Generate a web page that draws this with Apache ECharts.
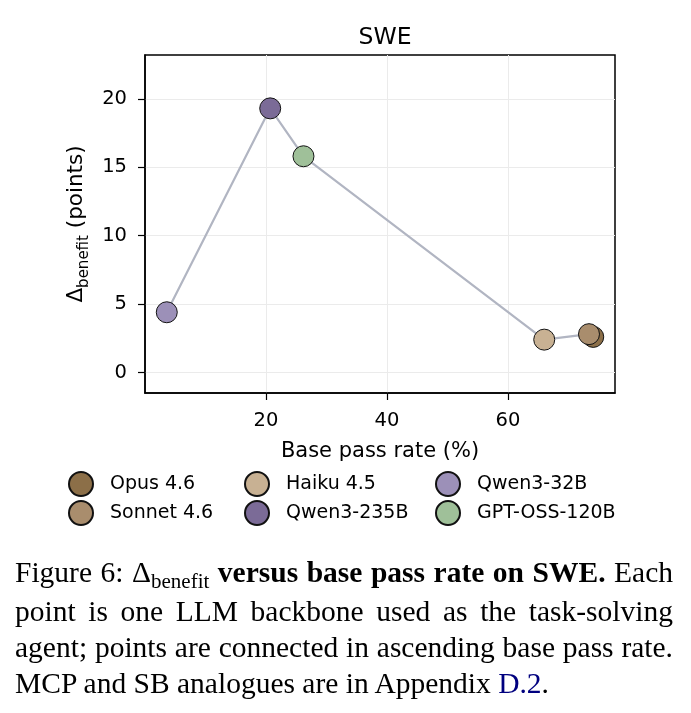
<!DOCTYPE html>
<html>
<head>
<meta charset="utf-8">
<script src="https://cdn.jsdelivr.net/npm/echarts@6/dist/echarts.min.js"></script>
<style>
  html, body { margin: 0; padding: 0; background: #fff; }
  #main { position: absolute; left: 0; top: 0; width: 691px; height: 713px; }
  #caption {
    position: absolute; left: 15px; top: 554px; width: 658px;
    font-family: 'Liberation Serif', 'Times New Roman', serif;
    font-size: 29.5px; line-height: 36px; color: #000;
  }
  #caption .j { text-align: justify; text-align-last: justify; white-space: nowrap; }
  #caption .sub { font-size: 21px; position: relative; top: 6px; }
  #caption a { color: #00007f; text-decoration: none; }
</style>
</head>
<body>
<div id="main"></div>
<div id="caption">
  <div class="j">Figure 6: &Delta;<span class="sub">benefit</span> <b>versus base pass rate on SWE.</b> Each</div>
  <div class="j">point is one LLM backbone used as the task-solving</div>
  <div class="j">agent; points are connected in ascending base pass rate.</div>
  <div>MCP and SB analogues are in Appendix <a>D.2</a>.</div>
</div>
<script>
var chartDom = document.getElementById('main');
var myChart = echarts.init(chartDom);
var option;

// values
var models = ['Opus 4.6', 'Sonnet 4.6', 'Haiku 4.5', 'Qwen3-235B', 'Qwen3-32B', 'GPT-OSS-120B'];
var basePassRate = [74.1, 73.4, 66.0, 20.7, 3.6, 26.2];
var deltaBenefit = [2.6, 2.8, 2.4, 19.3, 4.4, 15.8];
var xTicks = [20, 40, 60];
var yTicks = [0, 5, 10, 15, 20];

var colors = ['#8c6f48', '#a98d6d', '#c8b193', '#7b6b97', '#9c90b8', '#9fc099'];
var font = 'DejaVu Sans';

// connect points in ascending base pass rate
var order = models.map(function (m, i) { return i; });
order.sort(function (a, b) { return basePassRate[a] - basePassRate[b]; });
var linePts = order.map(function (i) { return [basePassRate[i], deltaBenefit[i]]; });

var series = [{
  type: 'line',
  data: linePts,
  symbol: 'none',
  lineStyle: { color: '#b1b5c2', width: 2.2 },
  z: 1,
  silent: true
}];
models.forEach(function (m, i) {
  series.push({
    name: m,
    type: 'scatter',
    data: [[basePassRate[i], deltaBenefit[i]]],
    symbolSize: 21,
    itemStyle: { color: colors[i], borderColor: '#111', borderWidth: 1, opacity: 1 },
    z: 2 + i
  });
});

function legendCol(left, names) {
  return {
    orient: 'vertical',
    left: left,
    top: 471,
    padding: 0,
    itemWidth: 48,
    itemHeight: 24,
    itemGap: 3,
    icon: 'circle',
    data: names,
    textStyle: { fontFamily: font, fontSize: 19, color: '#000' }
  };
}

option = {
  animation: false,
  title: {
    text: 'SWE',
    left: 380,
    top: 21,
    textAlign: 'center',
    textStyle: { fontFamily: font, fontSize: 23.5, fontWeight: 'normal', color: '#000' }
  },
  legend: [
    legendCol(68, ['Opus 4.6', 'Sonnet 4.6']),
    legendCol(244, ['Haiku 4.5', 'Qwen3-235B']),
    legendCol(435, ['Qwen3-32B', 'GPT-OSS-120B'])
  ],
  grid: {
    left: 145, right: 76, top: 55, bottom: 320,
    show: true, borderColor: '#000', borderWidth: 1.5, containLabel: false
  },
  xAxis: {
    type: 'value',
    min: 0,
    max: 77.7,
    name: 'Base pass rate (%)',
    nameLocation: 'middle',
    nameGap: 48,
    nameTextStyle: { fontFamily: font, fontSize: 21, color: '#000' },
    axisLine: { show: true, onZero: false, lineStyle: { color: '#000', width: 1.5 } },
    axisTick: { show: true, length: 7, lineStyle: { color: '#000', width: 1.2 }, customValues: xTicks },
    axisLabel: { fontFamily: font, fontSize: 19.5, color: '#000', margin: 18, customValues: xTicks },
    splitLine: { show: true, lineStyle: { color: '#ebebeb', width: 1 } }
  },
  yAxis: {
    type: 'value',
    min: -1.5,
    max: 23.2,
    name: '{d|Δ}{sub|benefit}{d| (points)}',
    nameLocation: 'middle',
    nameGap: 49,
    nameRotate: 90,
    nameTextStyle: {
      fontFamily: font, fontSize: 21.5, color: '#000',
      rich: {
        d: { fontFamily: font, fontSize: 21.5, color: '#000', lineHeight: 26, verticalAlign: 'top' },
        sub: { fontFamily: font, fontSize: 15, color: '#000', lineHeight: 26, verticalAlign: 'bottom' }
      }
    },
    axisLine: { show: true, onZero: false, lineStyle: { color: '#000', width: 1.5 } },
    axisTick: { show: true, length: 7, lineStyle: { color: '#000', width: 1.2 }, customValues: yTicks },
    axisLabel: { fontFamily: font, fontSize: 19.5, color: '#000', margin: 18, customValues: yTicks },
    splitLine: { show: true, lineStyle: { color: '#ebebeb', width: 1 } }
  },
  series: series
};

option && myChart.setOption(option);
</script>
</body>
</html>
